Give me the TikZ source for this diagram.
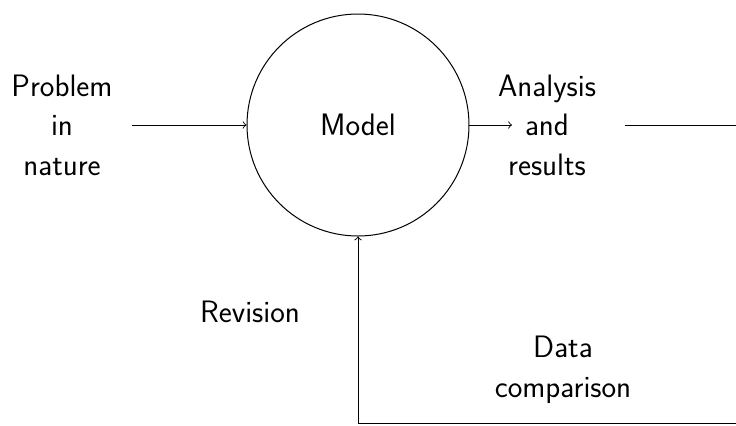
\documentclass[tikz,border=0pt]{standalone}
\begin{document}
\begin{tikzpicture}[x=0.5pt,y=-0.5pt,
  lbl/.style={font=\sffamily\fontsize{15.5}{19.8}\selectfont,align=center,inner sep=0pt},
  conn/.style={line width=0.45pt},
  arr/.style={conn,->}]
\clip (0,0) rectangle (736,425);
\node[draw,circle,minimum size=111pt,inner sep=0pt,line width=0.5pt] (model) at (358,125) {};
\node[lbl] (modeltxt) at (358,125) {Model};
\node[lbl] (problem) at (62,125) {Problem\\in\\nature};
\node[lbl] (analysis) at (547,125) {Analysis\\and\\results};
\node[lbl] (revision) at (250,312) {Revision};
\node[lbl] (data) at (563,370) {Data\\comparison};
\coordinate (p1) at (132,125);
\coordinate (a1) at (512,125);
\coordinate (r0) at (625,125);
\coordinate (r1) at (738,125);
\coordinate (r2) at (738,423);
\coordinate (r3) at (358,423);
\draw[arr] (p1) -- (model.west);
\draw[arr] (model.east) -- (a1);
\draw[arr] (r0) -- (r1) -- (r2) -- (r3) -- (model.south);
\end{tikzpicture}
\end{document}
